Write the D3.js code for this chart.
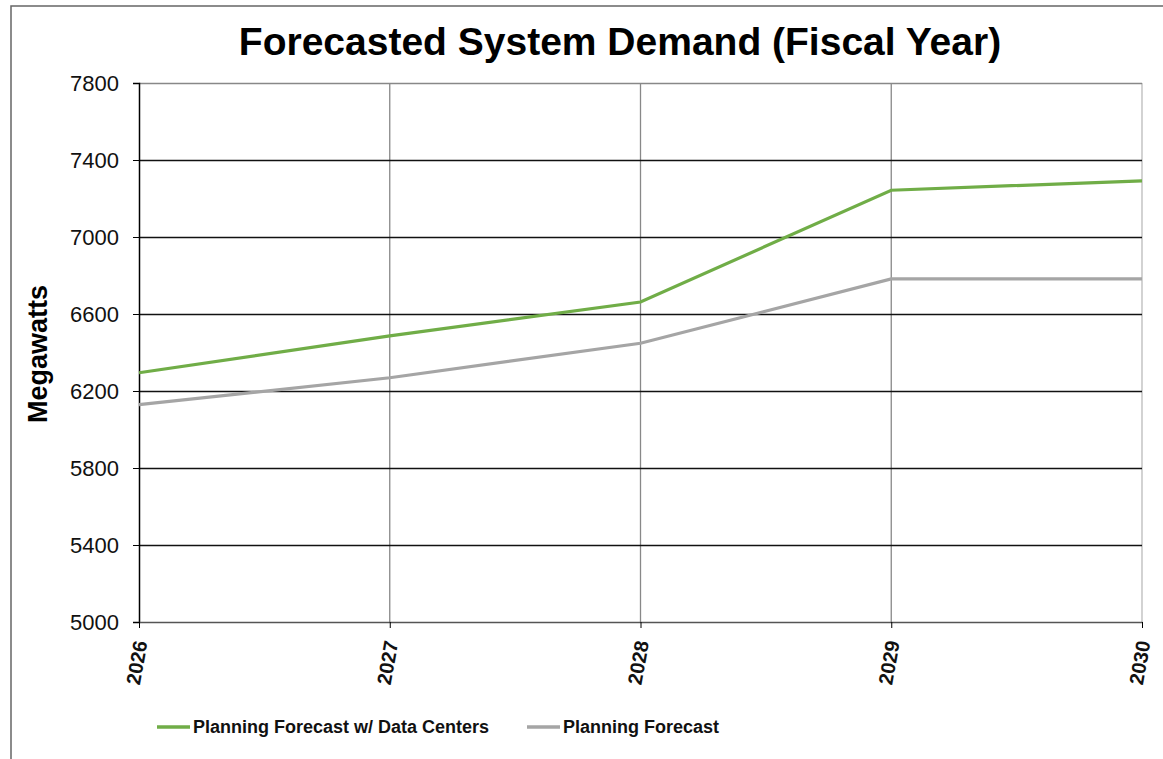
<!DOCTYPE html>
<html><head><meta charset="utf-8">
<script src="https://cdn.jsdelivr.net/npm/d3@7"></script>
<style>body{margin:0;background:#fff;font-family:"Liberation Sans",Arial,sans-serif}</style>
</head><body><svg id="c" width="1163" height="759"></svg>
<script>
const years = ["2026","2027","2028","2029","2030"];
const withDataCenters = [6295, 6486, 6662, 7243, 7292];
const planning = [6129, 6269, 6448, 6782, 6782];
const yTicks = [5000, 5400, 5800, 6200, 6600, 7000, 7400, 7800];
const seriesNames = ["Planning Forecast w/ Data Centers", "Planning Forecast"];
const seriesColors = ["#70AD47", "#A5A5A5"];

const svg = d3.select("#c");
const L = 139, R = 1142, T = 83, B = 622;
const x = d3.scalePoint().domain(years).range([L, R]);
const y = d3.scaleLinear().domain([5000, 7800]).range([B, T]);

svg.append("rect").attr("x",11).attr("y",6).attr("width",1170).attr("height",800)
  .attr("fill","none").attr("stroke","#666").attr("stroke-width",1.5);

svg.append("text").attr("x",620).attr("y",55).attr("text-anchor","middle")
  .attr("font-size",39).attr("font-weight","bold").text("Forecasted System Demand (Fiscal Year)");

// vertical grid
svg.append("g").selectAll("line").data(years.slice(1)).join("line")
  .attr("x1",d=>x(d)).attr("x2",d=>x(d)).attr("y1",T).attr("y2",B)
  .attr("stroke",(d,i)=>i===years.length-2?"#bbb":"#888").attr("stroke-width",1.3);
// horizontal grid
svg.append("g").selectAll("line").data(yTicks.slice(1)).join("line")
  .attr("x1",L).attr("x2",R).attr("y1",d=>Math.round(y(d))+0.5).attr("y2",d=>Math.round(y(d))+0.5)
  .attr("stroke",d=>d===7800?"#888":"#111").attr("stroke-width",1.4);

// y axis
const ya = svg.append("g").attr("transform",`translate(${L},0)`)
  .call(d3.axisLeft(y).tickValues(yTicks).tickSize(6).tickPadding(14).tickFormat(d3.format("d")));
ya.select(".domain").attr("stroke","#000").attr("stroke-width",1.5);
ya.selectAll(".tick line").attr("stroke","#000");
ya.selectAll("text").attr("font-size",22).attr("font-family","Liberation Sans, Arial").attr("fill","#111");

// x axis
const xa = svg.append("g").attr("transform",`translate(0,${B})`)
  .call(d3.axisBottom(x).tickSize(6).tickSizeOuter(0));
xa.select(".domain").attr("stroke","#555").attr("stroke-width",1.5);
xa.selectAll(".tick line").attr("stroke","#000");
xa.selectAll("text").attr("font-size",20).attr("font-weight","bold").attr("font-family","Liberation Sans, Arial")
  .attr("fill","#111").attr("text-anchor","end").attr("dy",0).attr("y",0)
  .attr("transform","translate(8,20) rotate(-80)");

svg.append("text").attr("transform","translate(47,354) rotate(-90)").attr("text-anchor","middle")
  .attr("font-size",27).attr("font-weight","bold").text("Megawatts");

const line = d3.line().x((d,i)=>x(years[i])).y(d=>y(d));
[planning, withDataCenters].forEach((s,k)=>{
  svg.append("path").datum(s).attr("d",line).attr("fill","none")
    .attr("stroke",k===0?seriesColors[1]:seriesColors[0]).attr("stroke-width",3.2);
});

// legend
const lg = [{n:seriesNames[0],c:seriesColors[0],x:157},{n:seriesNames[1],c:seriesColors[1],x:527}];
lg.forEach(d=>{
  svg.append("line").attr("x1",d.x).attr("x2",d.x+33).attr("y1",727).attr("y2",727)
    .attr("stroke",d.c).attr("stroke-width",3.5);
  svg.append("text").attr("x",d.x+36).attr("y",733).attr("font-size",18).attr("font-weight","bold")
    .attr("fill","#111").text(d.n);
});
</script></body></html>
